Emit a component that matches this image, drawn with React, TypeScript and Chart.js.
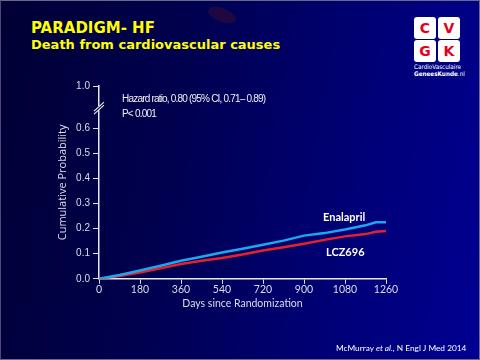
import React, { useEffect, useRef } from "react";
import { Chart, registerables } from "chart.js";

Chart.register(...registerables);

const days = [0, 90, 180, 270, 360, 450, 540, 630, 720, 810, 900, 990, 1080, 1170, 1215, 1260];
const enalapril = [0, 0.015, 0.033, 0.052, 0.072, 0.088, 0.105, 0.12, 0.136, 0.152, 0.172, 0.182, 0.196, 0.213, 0.225, 0.225];
const lcz696 = [0, 0.011, 0.025, 0.042, 0.059, 0.072, 0.083, 0.097, 0.113, 0.126, 0.14, 0.155, 0.169, 0.178, 0.187, 0.19];
const yTicks = [0, 0.1, 0.2, 0.3, 0.4, 0.5, 0.6];
const yBreakTop = 0.768; // position of the "1.0" tick after the axis break
const xTicks = [0, 180, 360, 540, 720, 900, 1080, 1260];

const breakPlugin = {
  id: "axisBreak",
  afterDraw(chart: any) {
    const ctx = chart.ctx;
    const y = chart.scales.y;
    const x0 = chart.chartArea.left;
    const yb = y.getPixelForValue(0.68);
    ctx.save();
    ctx.fillStyle = "#000040";
    ctx.fillRect(x0 - 2, yb - 2, 4, 4);
    ctx.strokeStyle = "#e8e8f0";
    ctx.lineWidth = 1.2;
    ctx.beginPath();
    ctx.moveTo(x0 - 5, yb + 3);
    ctx.lineTo(x0 + 5, yb - 6);
    ctx.moveTo(x0 - 5, yb + 6);
    ctx.lineTo(x0 + 5, yb - 3);
    ctx.stroke();
    ctx.restore();
  },
};

function KMChart() {
  const ref = useRef<HTMLCanvasElement>(null);
  useEffect(() => {
    if (!ref.current) return;
    const chart = new Chart(ref.current, {
      type: "line",
      data: {
        datasets: [
          {
            label: "Enalapril",
            data: days.map((d, i) => ({ x: d, y: enalapril[i] })),
            borderColor: "#1ca8ee",
            borderWidth: 2.5,
            pointRadius: 0,
            tension: 0,
          },
          {
            label: "LCZ696",
            data: days.map((d, i) => ({ x: d, y: lcz696[i] })),
            borderColor: "#e8202c",
            borderWidth: 2.5,
            pointRadius: 0,
            tension: 0,
          },
        ],
      },
      options: {
        animation: false,
        responsive: false,
        maintainAspectRatio: false,
        layout: { padding: { left: 50, right: 95, top: 85, bottom: 51 } },
        plugins: { legend: { display: false }, tooltip: { enabled: false } },
        scales: {
          x: {
            type: "linear",
            min: 0,
            max: 1260,
            afterBuildTicks: (s: any) => {
              s.ticks = xTicks.map((v) => ({ value: v }));
            },
            grid: { drawOnChartArea: false, color: "#e0e0ea", tickLength: 5 },
            border: { color: "#e8e8f0", width: 1.5 },
            ticks: {
              color: "#dcdcea",
              font: { family: "Lato", size: 10.5 },
              padding: 0,
              maxRotation: 0,
              callback: (v: any) => String(v),
            },
            title: {
              display: true,
              text: "Days since Randomization",
              color: "#dcdcea",
              font: { family: "Lato", size: 10.5 },
              padding: { top: 1, bottom: 0 },
            },
          },
          y: {
            type: "linear",
            min: 0,
            max: yBreakTop,
            afterFit: (s: any) => {
              s.width = 48;
            },
            afterBuildTicks: (s: any) => {
              s.ticks = [...yTicks, yBreakTop].map((v) => ({ value: v }));
            },
            grid: { drawOnChartArea: false, color: "#e0e0ea", tickLength: 6 },
            border: { color: "#e8e8f0", width: 1.5 },
            ticks: {
              color: "#dcdcea",
              font: { family: "Liberation Sans", size: 10 },
              padding: 3,
              callback: (v: any) => (v > 0.7 ? "1.0" : Number(v).toFixed(1)),
            },
            title: {
              display: true,
              text: "Cumulative Probability",
              color: "#dcdcea",
              font: { family: "Open Sans", size: 11 },
              padding: { top: 5, bottom: 0 },
            },
          },
        },
      },
      plugins: [breakPlugin],
    });
    return () => chart.destroy();
  }, []);
  return <canvas ref={ref} width={480} height={360} style={{ position: "absolute", left: 0, top: 0 }} />;
}

const abs = (o: React.CSSProperties): React.CSSProperties => ({ position: "absolute", whiteSpace: "nowrap", ...o });

const sq = (left: number, top: number, letter: string) => (
  <div
    style={abs({
      left,
      top,
      width: 22,
      height: 22,
      background: "#ffffff",
      borderRadius: 3,
      color: "#e3001b",
      fontFamily: "DejaVu Sans",
      fontWeight: "bold",
      fontSize: 14,
      lineHeight: "22px",
      textAlign: "center",
    })}
  >
    {letter}
  </div>
);

export default function App() {
  return (
    <div
      style={{
        position: "absolute",
        left: 0,
        top: 0,
        width: 480,
        height: 360,
        overflow: "hidden",
        background: "linear-gradient(100deg, #000034 0%, #00004e 35%, #000070 65%, #000092 100%)",
        boxSizing: "border-box",
        borderTop: "1px solid #6a6a88",
        borderLeft: "1px solid #4a4a78",
        borderRight: "1px solid #6a6a98",
        borderBottom: "1px solid #6a6a98",
      }}
    >
      <div
        style={abs({
          left: 206,
          top: 7,
          width: 30,
          height: 14,
          borderRadius: "50%",
          transform: "rotate(22deg)",
          background: "radial-gradient(ellipse at center, #22063a 0%, #1c0846 60%, rgba(20,0,60,0.1) 100%)",
        })}
      />
      <div style={abs({ left: 30, top: 18, color: "#ffff00", fontFamily: "DejaVu Sans", fontWeight: "bold", fontSize: 15, lineHeight: "18px" })}>
        PARADIGM- HF
      </div>
      <div style={abs({ left: 30, top: 36, color: "#ffff00", fontFamily: "DejaVu Sans", fontWeight: "bold", fontSize: 13, lineHeight: "16px" })}>
        Death from cardiovascular causes
      </div>
      {sq(413, 16, "C")}
      {sq(437, 16, "V")}
      {sq(413, 39, "G")}
      {sq(437, 39, "K")}
      <div style={abs({ left: 413, top: 62, width: 47, textAlign: "center", color: "#fff", fontFamily: "DejaVu Sans Condensed, DejaVu Sans", fontSize: 6.3, lineHeight: "7px" })}>
        CardioVasculaire
      </div>
      <div style={abs({ left: 413, top: 69, width: 47, textAlign: "center", color: "#fff", fontFamily: "DejaVu Sans Condensed, DejaVu Sans", fontSize: 6.3, lineHeight: "7px" })}>
        <b>GeneesKunde</b>.nl
      </div>
      <KMChart />
      <div style={abs({ left: 121, top: 91, color: "#f0f0f4", fontFamily: "Liberation Sans", fontSize: 10, letterSpacing: -0.8, lineHeight: "13px" })}>
        Hazard ratio, 0.80 (95% CI, 0.71– 0.89)
      </div>
      <div style={abs({ left: 121, top: 106, color: "#f0f0f4", fontFamily: "Liberation Sans", fontSize: 10, letterSpacing: -0.8, lineHeight: "13px" })}>
        P&lt; 0.001
      </div>
      <div style={abs({ left: 322, top: 209, color: "#ffffff", fontFamily: "Lato", fontWeight: "bold", fontSize: 11, lineHeight: "14px" })}>
        Enalapril
      </div>
      <div style={abs({ left: 325, top: 244, color: "#ffffff", fontFamily: "Lato", fontWeight: "bold", fontSize: 11, lineHeight: "14px" })}>
        LCZ696
      </div>
      <div style={abs({ left: 335, top: 342, color: "#ffffff", fontFamily: "Lato", fontSize: 8.3, lineHeight: "11px" })}>
        McMurray <i>et al.</i>, N Engl J Med 2014
      </div>
    </div>
  );
}
